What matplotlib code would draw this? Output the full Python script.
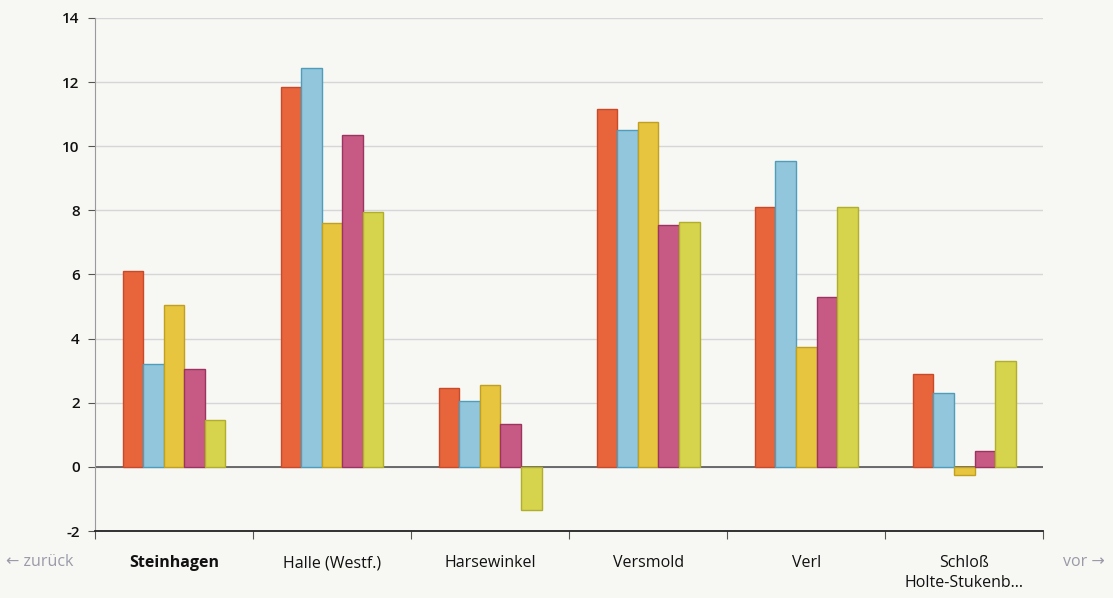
import numpy as np
import matplotlib.pyplot as plt

plt.rcParams['font.family'] = ['Open Sans', 'DejaVu Sans']
plt.rcParams['axes.unicode_minus'] = False

orte = ["Steinhagen", "Halle (Westf.)", "Harsewinkel", "Versmold", "Verl",
        "Schloß\nHolte-Stukenb..."]
s1 = [6.1, 11.85, 2.45, 11.15, 8.1, 2.9]    # orange
s2 = [3.2, 12.45, 2.05, 10.5, 9.55, 2.3]    # blau
s3 = [5.05, 7.6, 2.55, 10.75, 3.75, -0.25]  # gelb
s4 = [3.05, 10.35, 1.35, 7.55, 5.3, 0.5]    # magenta
s5 = [1.45, 7.95, -1.35, 7.65, 8.1, 3.3]    # gelbgruen
serien = [s1, s2, s3, s4, s5]
farben = ["#e8653c", "#92c6dc", "#e7c53f", "#c65a84", "#d6d44c"]
kanten = ["#c84a28", "#4e9dba", "#c0a020", "#9c3460", "#b0ae2a"]

bg = "#f7f7f4"
fig = plt.figure(figsize=(11.13, 5.98), dpi=100, facecolor=bg)
ax = fig.add_axes([0.0854, 0.112, 0.852, 0.858], facecolor=bg)

x = np.arange(len(orte))
w = 0.13
for i, (vals, c, e) in enumerate(zip(serien, farben, kanten)):
    ax.bar(x + (i - 2) * w, vals, w, color=c, edgecolor=e, linewidth=1.0, zorder=3)

ax.set_xlim(-0.5, len(orte) - 0.5)
ax.set_ylim(-2, 14)
ax.set_yticks(np.arange(-2, 15, 2))
ax.yaxis.grid(True, color="#d6d6d6", linewidth=1.0, zorder=0)
ax.axhline(0, color="#555555", linewidth=1.2, zorder=2)

for s in ["top", "right"]:
    ax.spines[s].set_visible(False)
ax.spines["left"].set_color("#9a9a9a")
ax.spines["bottom"].set_color("#222222")
ax.spines["bottom"].set_linewidth(1.3)

ax.tick_params(axis="y", length=5, color="#555555", labelsize=11, pad=6,
               labelcolor="#111111")
for lab in ax.get_yticklabels():
    lab.set_fontweight("semibold")
ax.set_xticks(np.arange(len(orte) + 1) - 0.5)
ax.set_xticklabels([])
ax.tick_params(axis="x", length=6, color="#555555", direction="out")

for i, name in enumerate(orte):
    ax.text(i, -2.75, name, ha="center", va="top", fontsize=11.5, color="#111111",
            fontweight="bold" if i == 0 else "normal", linespacing=1.3)

fig.text(0.005, 0.06, "← zurück", fontsize=11.5, color="#9a9aa8", va="center")
fig.text(0.955, 0.06, "vor →", fontsize=11.5, color="#9a9aa8", va="center")

fig.savefig("out.png", dpi=100, facecolor=bg)
